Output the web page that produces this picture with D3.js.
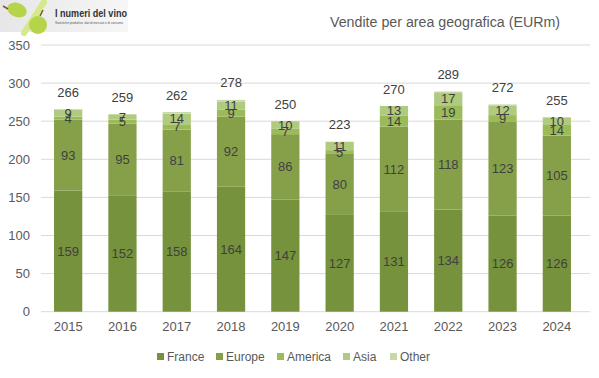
<!DOCTYPE html>
<html><head><meta charset="utf-8">
<script src="https://cdn.jsdelivr.net/npm/d3@7"></script>
<style>body{margin:0;background:#fff}svg{display:block}text{font-family:"Liberation Sans",Arial,sans-serif}</style>
</head><body><svg id="c" width="599" height="378"></svg>
<script>
const years = ["2015","2016","2017","2018","2019","2020","2021","2022","2023","2024"];
const france  = [159,152,158,164,147,127,131,134,126,126];
const europe  = [93,95,81,92,86,80,112,118,123,105];
const america = [4,5,7,9,7,5,14,19,9,14];
const asia    = [9,7,14,11,10,11,13,17,12,10];
const other   = [1,0,2,2,0,0,0,1,2,0];
const totals  = [266,259,262,278,250,223,270,289,272,255];
const seriesNames = ["France","Europe","America","Asia","Other"];
const seriesColors = ["#76923c","#86a04a","#9bbb59","#b0ca80","#c6d9a5"];
const showLabel = [true,true,true,true,false];
const yTicks = [0,50,100,150,200,250,300,350];

const svg = d3.select("#c");
const x = d3.scaleBand().domain(years).range([41,584]).paddingInner(0.48).paddingOuter(0.24);
const y = d3.scaleLinear().domain([0,350]).range([311.7,45]);

svg.append("g").selectAll("line").data(yTicks).join("line")
  .attr("x1",41).attr("x2",590).attr("y1",d=>y(d)).attr("y2",d=>y(d))
  .attr("stroke","#d9d9d9").attr("stroke-width",1);
svg.append("g").selectAll("text").data(yTicks).join("text")
  .attr("x",30).attr("y",d=>y(d)).attr("dy","0.35em").attr("text-anchor","end")
  .attr("font-size",13).attr("fill","#595959").text(d=>d);
svg.append("g").selectAll("text").data(years).join("text")
  .attr("x",d=>x(d)+x.bandwidth()/2).attr("y",331).attr("text-anchor","middle")
  .attr("font-size",13).attr("fill","#595959").text(d=>d);

const rows = years.map((yr,i)=>({year:yr,France:france[i],Europe:europe[i],America:america[i],Asia:asia[i],Other:other[i]}));
const stack = d3.stack().keys(seriesNames)(rows);

stack.forEach((layer,si)=>{
  svg.append("g").selectAll("rect").data(layer).join("rect")
    .attr("x",d=>x(d.data.year)).attr("width",x.bandwidth())
    .attr("y",d=>y(d[1])).attr("height",d=>y(d[0])-y(d[1]))
    .attr("fill",seriesColors[si]);
});
stack.forEach((layer,si)=>{
  if(!showLabel[si]) return;
  svg.append("g").selectAll("text").data(layer).join("text")
    .attr("x",d=>x(d.data.year)+x.bandwidth()/2)
    .attr("y",d=>y((d[0]+d[1])/2)).attr("dy","0.35em").attr("text-anchor","middle")
    .attr("font-size",13).attr("fill","#404040").text(d=>d[1]-d[0]);
});
svg.append("g").selectAll("text").data(years).join("text")
  .attr("x",d=>x(d)+x.bandwidth()/2).attr("y",(d,i)=>y(totals[i])-17).attr("dy","0.35em")
  .attr("text-anchor","middle").attr("font-size",13).attr("fill","#404040").text((d,i)=>totals[i]);

svg.append("text").attr("x",445).attr("y",27).attr("text-anchor","middle")
  .attr("font-size",14).attr("fill","#595959").attr("textLength",230).attr("lengthAdjust","spacingAndGlyphs")
  .text("Vendite per area geografica (EURm)");

const leg = svg.append("g");
const legX = [157,216,277,343,390];
seriesNames.forEach((n,i)=>{
  leg.append("rect").attr("x",legX[i]).attr("y",353).attr("width",7).attr("height",7).attr("fill",seriesColors[i]);
  leg.append("text").attr("x",legX[i]+10).attr("y",357).attr("dy","0.35em").attr("font-size",12).attr("fill","#595959").text(n);
});

// logo
const defs = svg.append("defs");
const lg = defs.append("linearGradient").attr("id","lg").attr("x1","0").attr("x2","1");
lg.append("stop").attr("offset","0").attr("stop-color","#e6e6e6");
lg.append("stop").attr("offset","1").attr("stop-color","#f7f7f7");
svg.append("rect").attr("x",0).attr("y",0).attr("width",128).attr("height",32).attr("fill","url(#lg)");
svg.append("line").attr("x1",24).attr("y1",33).attr("x2",44).attr("y2",2).attr("stroke","#d6e88a").attr("stroke-width",6).attr("stroke-linecap","round");
svg.append("ellipse").attr("cx",17).attr("cy",10).attr("rx",10).attr("ry",7).attr("fill","#b5d44a").attr("transform","rotate(20,17,10)");
svg.append("circle").attr("cx",38).attr("cy",25).attr("r",9).attr("fill","#b5d44a");
svg.append("line").attr("x1",40).attr("y1",16).attr("x2",43).attr("y2",10).attr("stroke","#7a5a2a").attr("stroke-width",1.5);
svg.append("line").attr("x1",3).attr("y1",6).attr("x2",8).attr("y2",9).attr("stroke","#7a5a2a").attr("stroke-width",1.5);
svg.append("text").attr("x",55).attr("y",17).attr("font-size",11).attr("fill","#333").attr("font-weight","bold")
  .attr("textLength",72).attr("lengthAdjust","spacingAndGlyphs").text("I numeri del vino");
svg.append("text").attr("x",55).attr("y",24).attr("font-size",3).attr("fill","#555").text("Statistiche produttive, dati di mercato e di consumo");
</script></body></html>
